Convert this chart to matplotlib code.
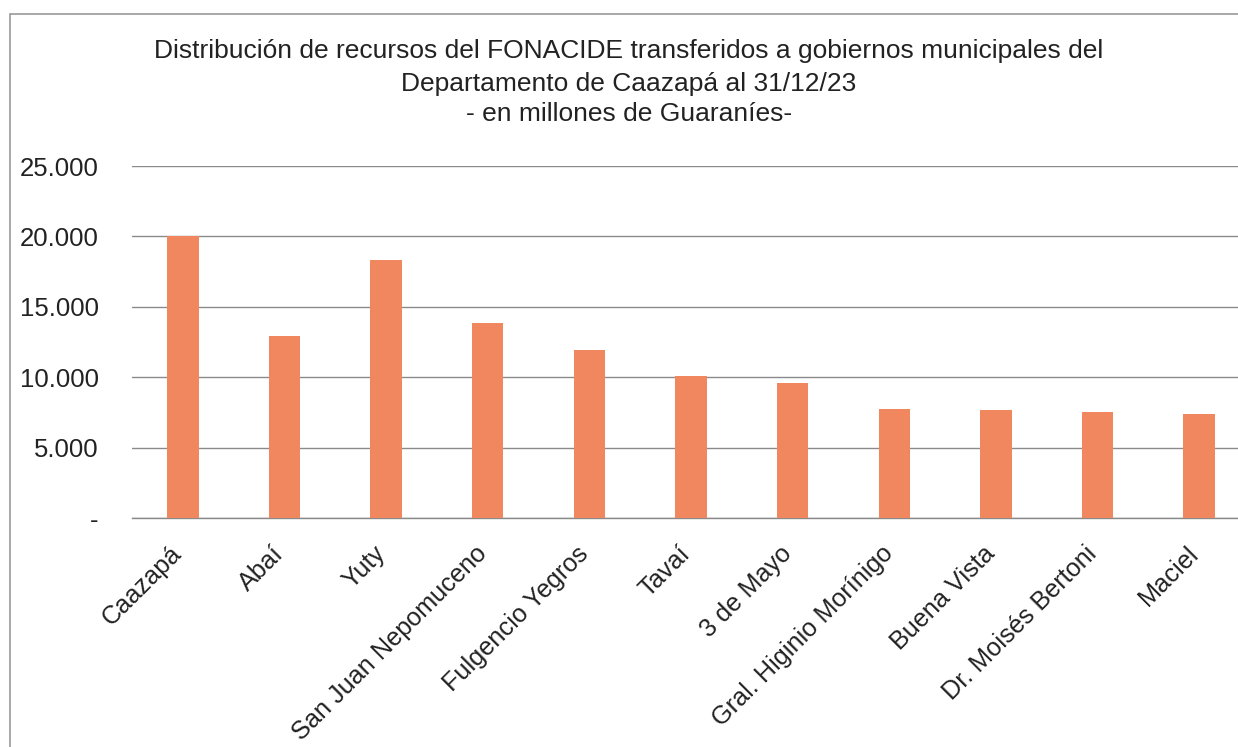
import matplotlib
matplotlib.use("Agg")
import matplotlib.pyplot as plt
import matplotlib.transforms as mtransforms
from matplotlib.ticker import FuncFormatter, MultipleLocator
from matplotlib.patches import Rectangle

plt.rcParams['font.family'] = ['Liberation Sans', 'DejaVu Sans']

municipios = ["Caazapá", "Abaí", "Yuty", "San Juan Nepomuceno", "Fulgencio Yegros",
              "Tavaí", "3 de Mayo", "Gral. Higinio Morínigo", "Buena Vista",
              "Dr. Moisés Bertoni", "Maciel"]
montos = [20050, 12900, 18320, 13850, 11930, 10060, 9620, 7720, 7690, 7550, 7390]

title_lines = ["Distribución de recursos del FONACIDE transferidos a gobiernos municipales del",
               "Departamento de Caazapá al 31/12/23",
               "- en millones de Guaraníes-"]

W, H = 1238, 747
fig = plt.figure(figsize=(W / 100, H / 100), dpi=100)
fig.patch.set_facecolor('white')

# outer chart frame
fig.add_artist(Rectangle((10 / W, -0.05), 1.2, (H - 14) / H + 0.05, transform=fig.transFigure,
                         fill=False, edgecolor='#9a9a9a', linewidth=1.2))

left_px, right_px, top_px, bottom_px = 132, 1250, 166, 518
ax = fig.add_axes([left_px / W, 1 - bottom_px / H, (right_px - left_px) / W, (bottom_px - top_px) / H])

x = list(range(len(municipios)))
ax.bar(x, montos, width=0.31, color='#F0875F', zorder=3)

ax.set_xlim(-0.5, len(municipios) - 0.5)
ax.set_ylim(0, 25000)
ax.yaxis.set_major_locator(MultipleLocator(5000))

def fmt(v, pos):
    if abs(v) < 1e-9:
        return "-"
    return f"{int(round(v)):,}".replace(",", ".")

ax.yaxis.set_major_formatter(FuncFormatter(fmt))
ax.grid(axis='y', color='#8a8a8a', linewidth=1.0, zorder=0)
ax.set_axisbelow(True)
for s in ['top', 'right', 'left']:
    ax.spines[s].set_visible(False)
ax.spines['bottom'].set_color('#8a8a8a')
ax.spines['bottom'].set_linewidth(1.0)

ax.tick_params(axis='y', length=0, pad=24, labelsize=18.5, labelcolor='#222222')
ax.tick_params(axis='x', length=0, pad=17, labelsize=18.2, labelcolor='#222222')
ax.set_xticks(x)
ax.set_xticklabels(municipios, rotation=45, ha='right', rotation_mode='anchor')
offset = mtransforms.ScaledTranslation(-13 / 100, 0, fig.dpi_scale_trans)
for lbl in ax.get_xticklabels():
    lbl.set_transform(lbl.get_transform() + offset)

ys = [1 - 51 / H, 1 - 84 / H, 1 - 114 / H]
for t, yy in zip(title_lines, ys):
    fig.text(629 / W, yy, t, ha='center', va='center', fontsize=19, color='#222222')

fig.savefig("out.png", dpi=100, facecolor='white')
